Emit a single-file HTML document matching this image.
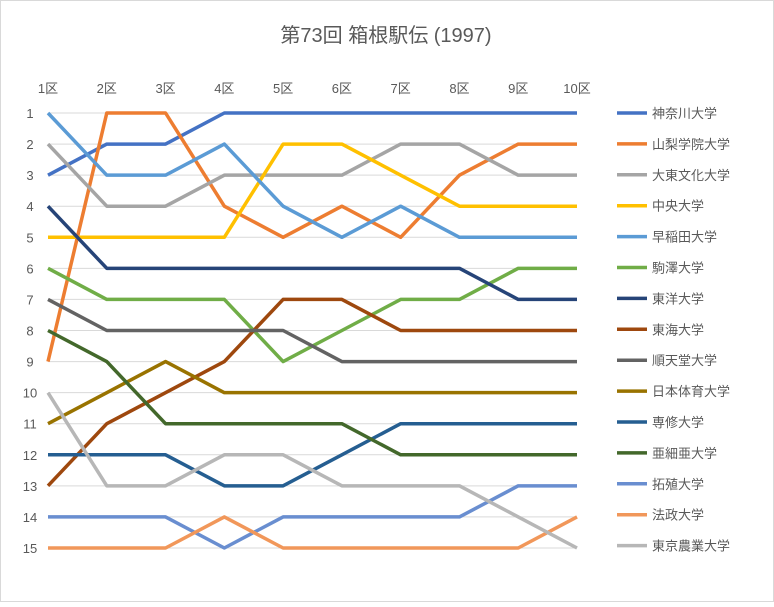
<!DOCTYPE html>
<html><head><meta charset="utf-8"><style>
body{margin:0;background:#fff;}
svg text{font-family:"Liberation Sans","Noto Sans CJK JP",sans-serif;fill:#595959;}
</style></head><body>
<svg id="chart" width="774" height="602" xmlns="http://www.w3.org/2000/svg">
<rect x="0.5" y="0.5" width="773" height="601" fill="#fff" stroke="#d9d9d9"/>
<text x="386" y="42" font-size="20" text-anchor="middle">第73回 箱根駅伝 (1997)</text>
<g id="grid"></g><g id="axes"></g><g id="lines"></g><g id="legend"></g>
</svg>
<script>
const legs=["1区","2区","3区","4区","5区","6区","7区","8区","9区","10区"];
const rankTicks=[1,2,3,4,5,6,7,8,9,10,11,12,13,14,15];
const teams=["神奈川大学","山梨学院大学","大東文化大学","中央大学","早稲田大学","駒澤大学","東洋大学","東海大学","順天堂大学","日本体育大学","専修大学","亜細亜大学","拓殖大学","法政大学","東京農業大学"];
const colors=["#4472C4","#ED7D31","#A5A5A5","#FFC000","#5B9BD5","#70AD47","#264478","#9E480E","#636363","#997300","#255E91","#43682B","#698ED0","#F1975A","#B7B7B7"];
const r0=[3,2,2,1,1,1,1,1,1,1];
const r1=[9,1,1,4,5,4,5,3,2,2];
const r2=[2,4,4,3,3,3,2,2,3,3];
const r3=[5,5,5,5,2,2,3,4,4,4];
const r4=[1,3,3,2,4,5,4,5,5,5];
const r5=[6,7,7,7,9,8,7,7,6,6];
const r6=[4,6,6,6,6,6,6,6,7,7];
const r7=[13,11,10,9,7,7,8,8,8,8];
const r8=[7,8,8,8,8,9,9,9,9,9];
const r9=[11,10,9,10,10,10,10,10,10,10];
const r10=[12,12,12,13,13,12,11,11,11,11];
const r11=[8,9,11,11,11,11,12,12,12,12];
const r12=[14,14,14,15,14,14,14,14,13,13];
const r13=[15,15,15,14,15,15,15,15,15,14];
const r14=[10,13,13,12,12,13,13,13,14,15];
const ranks=[r0,r1,r2,r3,r4,r5,r6,r7,r8,r9,r10,r11,r12,r13,r14];
const NS="http://www.w3.org/2000/svg";
const xS=i=>48+i*(577-48)/(legs.length-1);
const yS=r=>113+(r-1)*(548-113)/14;
function mk(t,a,p){const e=document.createElementNS(NS,t);for(const k in a)e.setAttribute(k,a[k]);p.appendChild(e);return e;}
const G=document.getElementById('grid'),A=document.getElementById('axes'),L=document.getElementById('lines'),LG=document.getElementById('legend');
rankTicks.forEach(r=>{
 const l=mk('line',{x1:48,x2:577,y1:yS(r),y2:yS(r),stroke:'#d9d9d9','stroke-width':1},G);
 
 
 const t=mk('text',{x:30,y:yS(r)+5,'font-size':13,'text-anchor':'middle'},A);t.textContent=r;
 
 
});
legs.forEach((g,i)=>{
 const t=mk('text',{x:xS(i),y:93,'font-size':13,'text-anchor':'middle'},A);t.textContent=g;
 
 
});
ranks.forEach((rs,k)=>{
 const p=mk('polyline',{points:rs.map((r,i)=>xS(i)+','+yS(r)).join(' '),fill:'none',stroke:colors[k],'stroke-width':3.5,'stroke-linejoin':'round'},L);
 
 
 const y=113+k*30.9;
 const ll=mk('line',{x1:617,x2:647,y1:y,y2:y,stroke:colors[k],'stroke-width':3.5},LG);
 
 
 const t=mk('text',{x:652,y:y+5,'font-size':13},LG);t.textContent=teams[k];
 
 
});
</script>
</body></html>
